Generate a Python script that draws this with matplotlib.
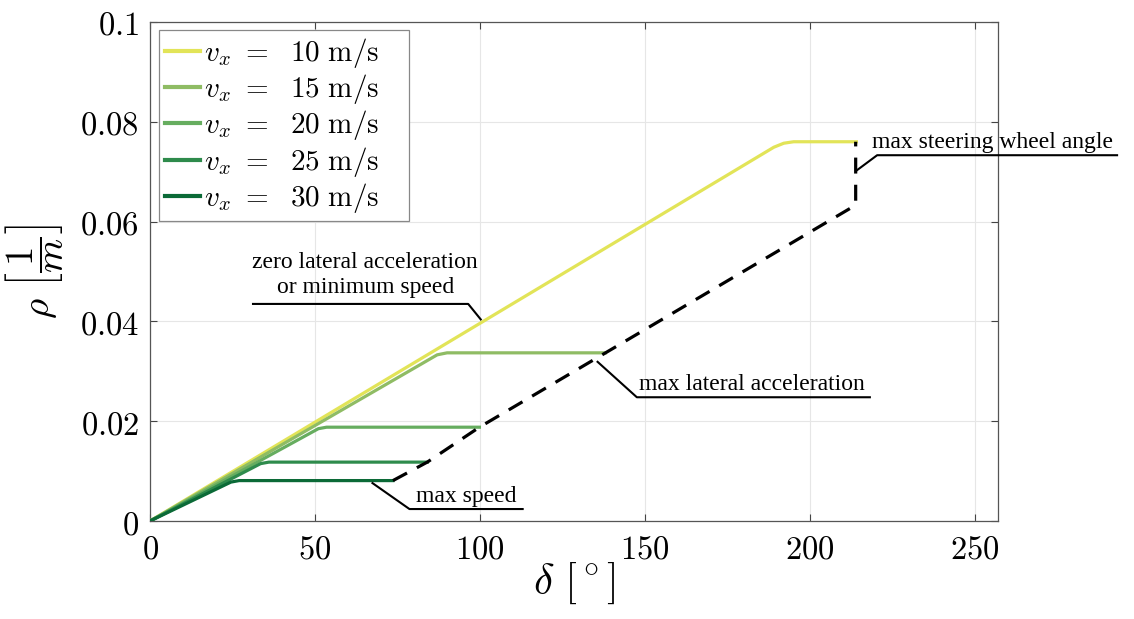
import matplotlib
matplotlib.use('Agg')
from matplotlib import pyplot as plt
from matplotlib.ticker import FuncFormatter

plt.rcParams['mathtext.fontset'] = 'cm'

# curves rho(delta) for each speed
speeds = [10, 15, 20, 25, 30]
colors = ['#e2e458', '#8fbc64', '#66ad5f', '#2e8b4c', '#0b6a37']
delta_10 = [0, 189, 192, 195, 214]
rho_10 = [0, 0.0749, 0.0757, 0.0760, 0.0760]
delta_15 = [0, 87, 90, 138]
rho_15 = [0, 0.0333, 0.0337, 0.0337]
delta_20 = [0, 51, 53.5, 99.8]
rho_20 = [0, 0.0185, 0.0188, 0.0188]
delta_25 = [0, 33.5, 36, 84]
rho_25 = [0, 0.0115, 0.0118, 0.0118]
delta_30 = [0, 24.5, 27, 73.6]
rho_30 = [0, 0.0078, 0.0081, 0.0081]
curves = [(delta_10, rho_10), (delta_15, rho_15), (delta_20, rho_20),
          (delta_25, rho_25), (delta_30, rho_30)]

# boundary (dashed)
limit_delta = [73.6, 84, 99.8, 138, 213.8, 213.8]
limit_rho = [0.0081, 0.0118, 0.0188, 0.0337, 0.0633, 0.0760]

# annotations: text, text position, alignment, leader line
notes = [
    ('zero lateral acceleration\nor minimum speed', (65.2, 0.0446), 'center',
     [31.2, 96.4, 100.2], [0.0435, 0.0435, 0.0404]),
    ('max lateral acceleration', (148.0, 0.0252), 'left',
     [135.6, 147.5, 218.1], [0.0319, 0.0248, 0.0248]),
    ('max speed', (80.5, 0.0029), 'left',
     [67.4, 78.6, 112.9], [0.0076, 0.0024, 0.0024]),
    ('max steering wheel angle', (218.8, 0.0737), 'left',
     [214.2, 220.3, 293.0], [0.0703, 0.0733, 0.0733]),
]

fig = plt.figure(figsize=(11.34, 6.19), dpi=100)
ax = fig.add_axes([0.1323, 0.1583, 0.748, 0.8062])

for v, c, (d, r) in zip(speeds, colors, curves):
    ax.plot(d, r, color=c, lw=2.3, label=r'$v_x\ =\ \ \mathrm{%d\ m/s}$' % v,
            solid_joinstyle='round', zorder=3)

ax.plot(limit_delta, limit_rho, color='black', lw=2.3, ls=(0, (5, 3.5)), zorder=4)

for txt, pos, ha, lx, ly in notes:
    ax.plot(lx, ly, color='black', lw=1.5, clip_on=False, zorder=5)
    ax.text(pos[0], pos[1], txt, ha=ha, va='bottom', fontsize=17,
            family='Liberation Serif', linespacing=1.3, multialignment='center',
            clip_on=False)

ax.set_xlim(0, 257)
ax.set_ylim(0, 0.1)
ax.set_xticks([0, 50, 100, 150, 200, 250])
ax.set_yticks([0, 0.02, 0.04, 0.06, 0.08, 0.1])
fmt = FuncFormatter(lambda v, p: '$%g$' % v)
ax.xaxis.set_major_formatter(fmt)
ax.yaxis.set_major_formatter(fmt)
ax.tick_params(direction='in', labelsize=23.5, length=5, color='#444444',
               top=True, right=True, pad=8)
ax.grid(True, color='#e6e6e6', lw=0.8)
ax.set_axisbelow(True)
for s in ax.spines.values():
    s.set_color('#555555')
    s.set_linewidth(0.9)

ax.set_xlabel(r'$\delta\ [^\circ]$', fontsize=31, labelpad=-3)
ax.set_ylabel(r'$\rho\ \left[\dfrac{1}{m}\right]$', fontsize=28, labelpad=10)

leg = ax.legend(loc='upper left', bbox_to_anchor=(0.0106, 0, 0.295, 0.984),
                mode='expand', fontsize=21, handlelength=1.2, handletextpad=0.15,
                borderpad=0.2, labelspacing=0.08, fancybox=False, framealpha=1,
                borderaxespad=0)
leg.get_frame().set_edgecolor('#888888')
leg.get_frame().set_linewidth(0.9)
for line in leg.get_lines():
    line.set_linewidth(3)

plt.savefig('out.png', dpi=100)
